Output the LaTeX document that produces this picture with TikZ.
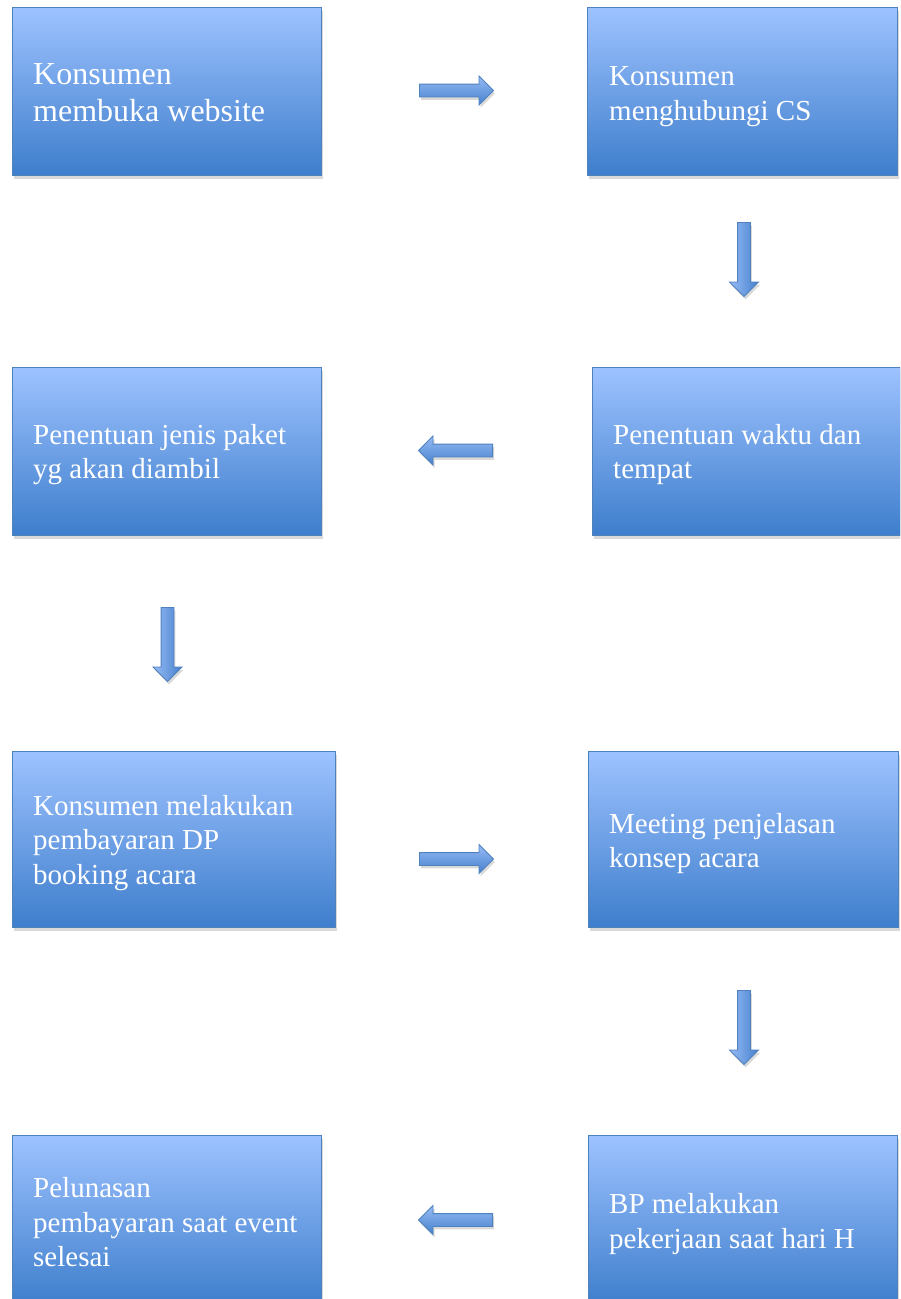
\documentclass[tikz,border=0pt]{standalone}
\usepackage{fontspec}
\setmainfont{Liberation Serif}
\usetikzlibrary{shapes.arrows,shadows}
\definecolor{boxtop}{RGB}{157,194,255}
\definecolor{boxbot}{RGB}{62,126,204}
\definecolor{boxline}{RGB}{79,129,189}
\definecolor{arrtop}{RGB}{150,188,245}
\definecolor{arrbot}{RGB}{70,128,205}
\tikzset{
  stepbox/.style={rectangle, anchor=north west, inner sep=0pt, draw=boxline,
    line width=1.2pt, top color=boxtop, bottom color=boxbot,
    drop shadow={shadow xshift=1.5pt, shadow yshift=-3pt, opacity=0.3}},
  txt/.style={text=white, align=left, inner sep=0pt, anchor=west,
    font=\fontsize{29}{34.5}\selectfont},
  bigtxt/.style={txt, font=\fontsize{32}{37}\selectfont},
  blockarrow/.style={single arrow, draw=boxline, line width=0.9pt,
    minimum height=74pt, minimum width=28pt, single arrow head extend=8pt,
    single arrow head indent=0pt, inner sep=6pt, anchor=tail,
    drop shadow={shadow xshift=1.5pt, shadow yshift=-3pt, opacity=0.3}},
  harr/.style={blockarrow, top color=arrtop, bottom color=arrbot},
  varr/.style={blockarrow, left color=arrtop, right color=arrbot, shape border rotate=270},
}
\begin{document}
\begin{tikzpicture}[x=1pt,y=1pt]
\useasboundingbox (0,0) rectangle (900,-1299);
\clip (0,0) rectangle (900,-1299);
% boxes
\node[stepbox, minimum width=309pt, minimum height=168pt] (b1) at (12,-7) {};
\node[stepbox, minimum width=310pt, minimum height=168pt] (b2) at (587,-7) {};
\node[stepbox, minimum width=308pt, minimum height=168pt] (b3) at (592,-367) {};
\node[stepbox, minimum width=309pt, minimum height=168pt] (b4) at (12,-367) {};
\node[stepbox, minimum width=323pt, minimum height=176pt] (b5) at (12,-751) {};
\node[stepbox, minimum width=310pt, minimum height=176pt] (b6) at (588,-751) {};
\node[stepbox, minimum width=309pt, minimum height=169pt] (b7) at (12,-1135) {};
\node[stepbox, minimum width=309pt, minimum height=169pt] (b8) at (588,-1135) {};
% texts
\node[bigtxt] (t1) at ([xshift=21pt,yshift=-1pt]b1.west) {Konsumen\\membuka website};
\node[txt] (t2) at ([xshift=22pt,yshift=-5pt]b2.west) {Konsumen\\menghubungi CS};
\node[txt] (t3) at ([xshift=21pt,yshift=-3pt]b3.west) {Penentuan waktu dan\\tempat};
\node[txt] (t4) at ([xshift=21pt,yshift=-3pt]b4.west) {Penentuan jenis paket\\yg akan diambil};
\node[txt] (t5) at ([xshift=21pt,yshift=-3pt]b5.west) {Konsumen melakukan\\pembayaran DP\\booking acara};
\node[txt] (t6) at ([xshift=21pt,yshift=-4pt]b6.west) {Meeting penjelasan\\konsep acara};
\node[txt] (t7) at ([xshift=21pt,yshift=-2pt]b7.west) {Pelunasan\\pembayaran saat event\\selesai};
\node[txt] (t8) at ([xshift=21pt,yshift=-4pt]b8.west) {BP melakukan\\pekerjaan saat hari H};
% block arrows
\node[harr] (a1) at (419,-90.5) {};
\node[varr] (a2) at (744,-222) {};
\node[harr, shape border rotate=180] (a3) at (493,-450.5) {};
\node[varr] (a4) at (167.5,-607) {};
\node[harr] (a5) at (419,-859) {};
\node[varr] (a6) at (744,-990) {};
\node[harr, shape border rotate=180] (a7) at (493,-1220) {};
\end{tikzpicture}
\end{document}
